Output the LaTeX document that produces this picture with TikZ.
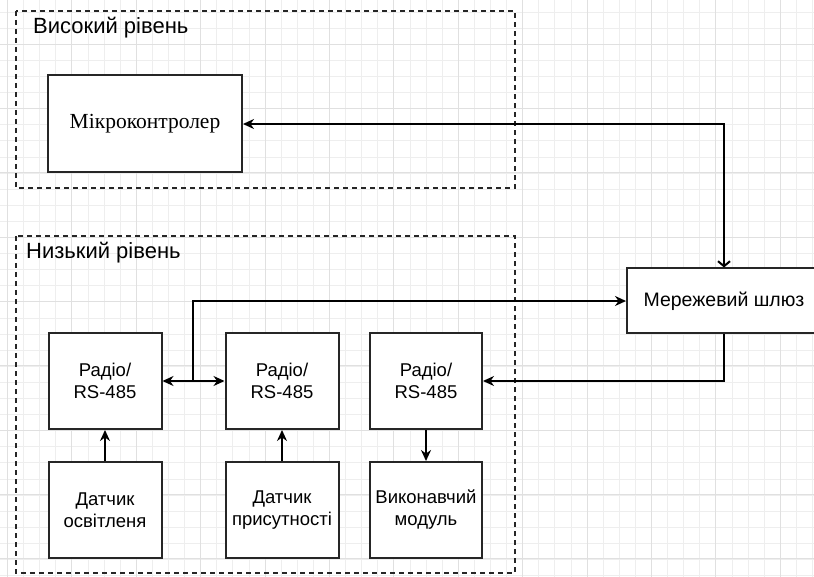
\documentclass[tikz,border=0pt]{standalone}
\usepackage{fontspec}
\setmainfont{Liberation Serif}
\newfontfamily\arialf{Liberation Sans}
\usetikzlibrary{arrows.meta}
\begin{document}
\begin{tikzpicture}[x=1pt,y=-1pt,
  box/.style={draw=black!85,line width=2pt,fill=white,align=center,inner sep=0pt,
    font=\arialf\fontsize{18.5}{22}\selectfont},
  radiobox/.style={box,minimum width=113pt,minimum height=96pt},
  grp/.style={draw=black!85,line width=1.5pt,dash pattern=on 5pt off 4pt},
  grptitle/.style={anchor=west,inner sep=0pt,font=\arialf\fontsize{22}{25}\selectfont},
  conn/.style={line width=2pt,draw=black,arrows={-Stealth[length=11pt,width=10pt]}},
  conn2/.style={line width=2pt,draw=black,arrows={Stealth[length=11pt,width=10pt]-Stealth[length=11pt,width=10pt]}}
]
\clip (0,0) rectangle (814,577);
\fill[white] (0,0) rectangle (814,577);
% grid
\foreach \i in {0,...,51} {
  \draw[gray!13,line width=0.7pt] ({7.4+16.1*\i},0) -- ({7.4+16.1*\i},577);
}
\foreach \i in {0,...,36} {
  \draw[gray!13,line width=0.7pt] (0,{12.0+16.1*\i}) -- (814,{12.0+16.1*\i});
}
\foreach \i in {0,...,12} {
  \draw[gray!24,line width=1pt] ({7.4+64.4*\i},0) -- ({7.4+64.4*\i},577);
}
\foreach \i in {-1,...,9} {
  \draw[gray!24,line width=1pt] (0,{44.2+64.3*\i}) -- (814,{44.2+64.3*\i});
}
% groups
\draw[grp] (16,11) rectangle (515,188);
\node[grptitle] (hi) at (33,28) {Високий рівень};
\draw[grp] (16,236) rectangle (515,573);
\node[grptitle] (lo) at (26,253) {Низький рівень};
% nodes
\node[box,minimum width=194pt,minimum height=97pt,font=\fontsize{21.5}{25}\selectfont] (mc) at (145,124) {Мікроконтролер};
\node[radiobox] (r1) at (105,381) {Радіо/\\RS-485};
\node[radiobox] (r2) at (282,381) {Радіо/\\RS-485};
\node[radiobox,minimum width=112pt] (r3) at (426,381) {Радіо/\\RS-485};
\node[radiobox] (s1) at (105,510) {Датчик\\освітленя};
\node[radiobox] (s2) at (282,510) {Датчик\\присутності};
\node[radiobox,minimum width=112pt] (act) at (426,510) {Виконавчий\\модуль};
\node[box,minimum width=194pt,minimum height=65pt,font=\arialf\fontsize{19.5}{23}\selectfont] (gw) at (724,301) {Мережевий шлюз};
\coordinate (j) at (193,381);
% connectors
\draw[line width=2pt,arrows={Stealth[length=11pt,width=10pt]-{Straight Barb[length=5pt,width=12pt,line width=2pt]}}] (mc.east) -| (gw.north);
\draw[conn2] (r1.east) -- (r2.west);
\draw[conn] (j) |- (gw.west);
\draw[conn] (gw.south) |- (r3.east);
\draw[conn] (s1.north) -- (r1.south);
\draw[conn] (s2.north) -- (r2.south);
\draw[conn] (r3.south) -- (act.north);
\end{tikzpicture}
\end{document}
